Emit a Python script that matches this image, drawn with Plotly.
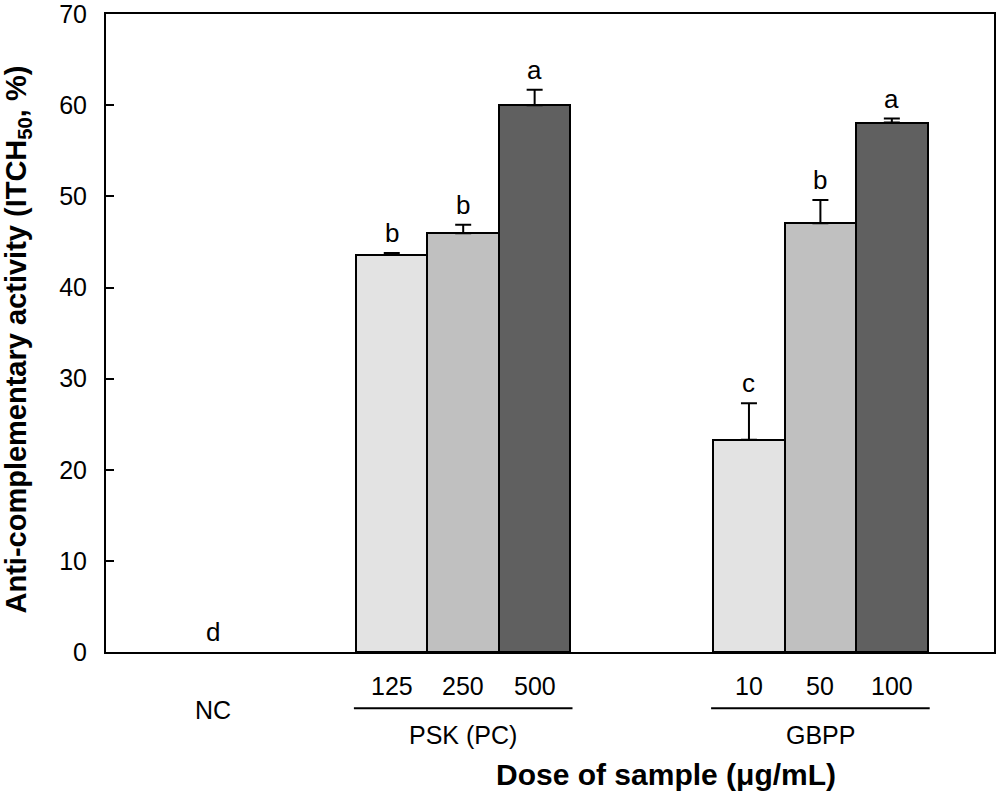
import plotly.graph_objects as go

# dane
positions = [1.5, 4, 5, 6, 9, 10, 11]
values = [0, 43.6, 45.95, 60.0, 23.3, 47.05, 58.1]
errors = [0, 0.2, 0.95, 1.7, 4.0, 2.55, 0.45]
letters = ["d", "b", "b", "a", "c", "b", "a"]
dose_labels = ["", "125", "250", "500", "10", "50", "100"]
groups = ["PSK (PC)", "GBPP"]
group_members = [[1, 2, 3], [4, 5, 6]]

colors = ["white", "#e3e3e3", "#c0c0c0", "#606060", "#e3e3e3", "#c0c0c0", "#606060"]

FONT = "Arial, Liberation Sans, Helvetica, sans-serif"

# NC ma wartość 0 - rysujemy tylko słupki > 0
idx = [i for i, v in enumerate(values) if v > 0]

fig = go.Figure()

fig.add_trace(go.Bar(
    x=[positions[i] for i in idx], y=[values[i] for i in idx], width=1,
    marker=dict(color=[colors[i] for i in idx], line=dict(color="black", width=2)),
    error_y=dict(type="data", array=[errors[i] for i in idx], arrayminus=[0] * len(idx),
                 symmetric=False, color="black", thickness=2, width=8),
    showlegend=False, hoverinfo="skip",
))

annotations = []

# litery istotnosci nad słupkami
for p, v, e, l in zip(positions, values, errors, letters):
    annotations.append(dict(x=p, y=v + e, xref="x", yref="y", text=l, showarrow=False,
                            yanchor="bottom", yshift=3, font=dict(size=26, color="black")))

# etykiety dawek
for p, d in zip(positions, dose_labels):
    if d:
        annotations.append(dict(x=p, y=0, xref="x", yref="y", text=d, showarrow=False,
                                yanchor="top", yshift=-18, font=dict(size=25, color="black")))

annotations.append(dict(x=positions[0], y=0, xref="x", yref="y", text="NC", showarrow=False,
                        yanchor="top", yshift=-42, font=dict(size=25, color="black")))

shapes = []
for g, members in zip(groups, group_members):
    xs = [positions[i] for i in members]
    mid = sum(xs) / len(xs)
    annotations.append(dict(x=mid, y=0, xref="x", yref="y", text=g, showarrow=False,
                            yanchor="top", yshift=-67, font=dict(size=25, color="black")))
    shapes.append(dict(type="line", xref="x", yref="paper",
                       x0=xs[0] - 0.53, x1=xs[-1] + 0.53, y0=-0.088, y1=-0.088,
                       line=dict(color="black", width=2)))

annotations.append(dict(x=0.631, y=-0.192, xref="paper", yref="paper",
                        text="<b>Dose of sample (\u03bcg/mL)</b>", showarrow=False,
                        yanchor="middle", font=dict(size=30, color="black")))
annotations.append(dict(x=-0.099, y=0.49, xref="paper", yref="paper", textangle=-90,
                        text="<b>Anti-complementary activity (ITCH<sub>50</sub>, %)</b>",
                        showarrow=False, xanchor="center", yanchor="middle",
                        font=dict(size=29, color="black")))

fig.update_layout(
    width=997, height=792,
    margin=dict(l=106, r=3, t=14, b=140),
    paper_bgcolor="white", plot_bgcolor="white",
    font=dict(family=FONT, size=25, color="black"),
    bargap=0,
    xaxis=dict(range=[0, 12.43], showticklabels=False, ticks="", showgrid=False,
               zeroline=False, showline=True, linecolor="black", linewidth=2, mirror=True,
               automargin=False),
    yaxis=dict(range=[0, 70.02], tickvals=[0, 10, 20, 30, 40, 50, 60, 70],
               ticks="inside", ticklen=8, tickwidth=2, ticklabeloverflow="allow",
               tickcolor="black", showgrid=False, zeroline=False, showline=True,
               linecolor="black", linewidth=2, mirror=True, ticklabelstandoff=12,
               tickfont=dict(size=25), automargin=False),
    annotations=annotations,
    shapes=shapes,
)

fig.write_html("out.html", config={"displayModeBar": False},
               post_script="document.body.style.margin='0';document.body.style.overflow='hidden';")
